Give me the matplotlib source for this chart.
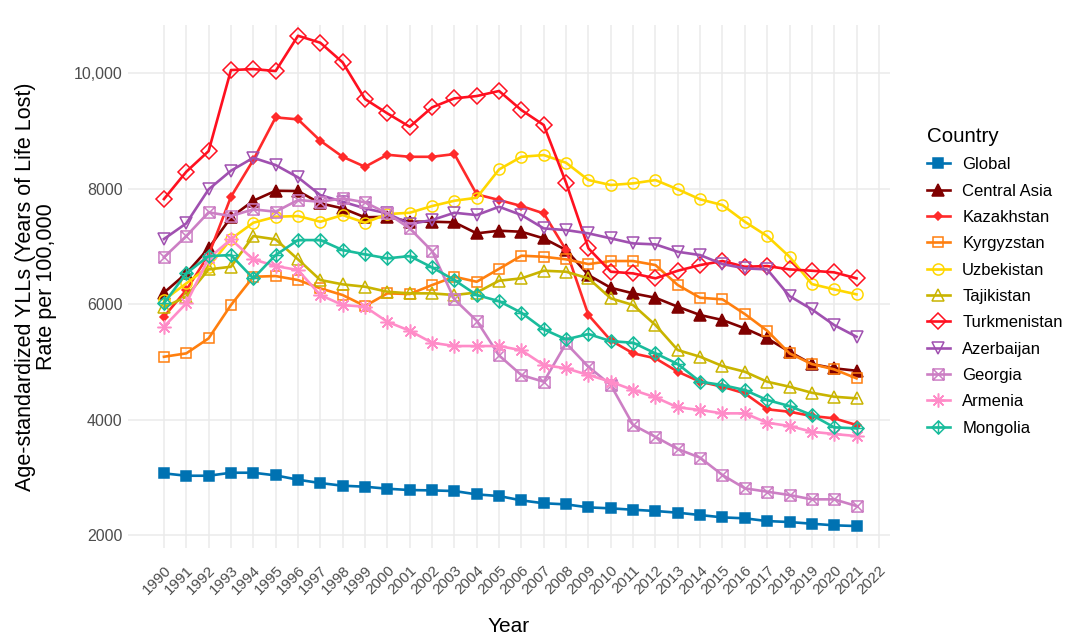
import numpy as np
import matplotlib
matplotlib.use("Agg")
import matplotlib.pyplot as plt
from matplotlib.path import Path

plt.rcParams['font.family'] = ['Liberation Sans', 'DejaVu Sans']

years = list(range(1990, 2022))

global_vals = [3068, 3027, 3027, 3079, 3079, 3033, 2958, 2900, 2854, 2837,
               2802, 2779, 2773, 2762, 2704, 2675, 2600, 2550, 2531, 2479,
               2462, 2438, 2416, 2387, 2346, 2306, 2289, 2242, 2225, 2196,
               2168, 2156]
central_asia = [6196, 6531, 6965, 7502, 7789, 7962, 7957, 7744, 7657, 7502,
                7512, 7426, 7426, 7415, 7224, 7270, 7252, 7137, 6935, 6502,
                6282, 6185, 6109, 5953, 5810, 5723, 5579, 5406, 5174, 4961,
                4887, 4845]
kazakhstan = [5781, 6242, 6850, 7858, 8494, 9232, 9198, 8828, 8550, 8377,
              8585, 8550, 8550, 8597, 7900, 7801, 7697, 7570, 6935, 5810,
              5370, 5146, 5060, 4828, 4655, 4568, 4453, 4177, 4135, 4061,
              4021, 3905]
kyrgyzstan = [5087, 5146, 5406, 5983, 6473, 6485, 6416, 6272, 6156, 5965,
              6185, 6173, 6329, 6473, 6386, 6610, 6837, 6819, 6774, 6692,
              6745, 6745, 6675, 6329, 6109, 6081, 5827, 5538, 5146, 4961,
              4869, 4713]
uzbekistan = [6069, 6358, 6646, 7126, 7408, 7512, 7524, 7426, 7541, 7408,
              7558, 7581, 7697, 7789, 7841, 8331, 8550, 8580, 8447, 8147,
              8061, 8090, 8147, 7986, 7813, 7714, 7426, 7177, 6819, 6346,
              6254, 6168]
tajikistan = [5943, 6127, 6600, 6646, 7177, 7120, 6774, 6416, 6341, 6300,
              6213, 6185, 6185, 6156, 6200, 6404, 6445, 6577, 6560, 6445,
              6099, 5983, 5636, 5203, 5087, 4926, 4828, 4655, 4568, 4464,
              4395, 4367]
turkmenistan = [7818, 8291, 8649, 10052, 10069, 10035, 10646, 10525, 10185, 9550,
                9302, 9070, 9406, 9562, 9602, 9690, 9359, 9100, 8100, 6965,
                6560, 6531, 6445, 6577, 6675, 6745, 6646, 6658, 6600, 6577,
                6549, 6445]
azerbaijan = [7126, 7397, 7986, 8309, 8533, 8407, 8194, 7887, 7772, 7657,
              7570, 7385, 7455, 7581, 7541, 7685, 7541, 7310, 7281, 7224,
              7137, 7050, 7033, 6905, 6848, 6692, 6618, 6600, 6138, 5908,
              5636, 5434]
georgia = [6809, 7177, 7588, 7524, 7640, 7599, 7801, 7772, 7830, 7761,
           7570, 7310, 6918, 6081, 5711, 5110, 4770, 4655, 5319, 4915,
           4597, 3905, 3700, 3489, 3339, 3039, 2809, 2750, 2693, 2618,
           2618, 2502]
armenia = [5607, 6012, 6791, 7120, 6774, 6658, 6589, 6156, 5983, 5953,
           5693, 5538, 5330, 5273, 5273, 5273, 5200, 4944, 4887, 4771,
           4655, 4511, 4384, 4211, 4165, 4107, 4107, 3945, 3887, 3789,
           3749, 3714]
mongolia = [6012, 6531, 6831, 6848, 6445, 6848, 7108, 7108, 6935, 6861,
            6791, 6831, 6635, 6416, 6156, 6050, 5850, 5562, 5388, 5481,
            5357, 5330, 5146, 4961, 4655, 4597, 4511, 4338, 4234, 4078,
            3865, 3847]

countries = ["Global", "Central Asia", "Kazakhstan", "Kyrgyzstan", "Uzbekistan",
             "Tajikistan", "Turkmenistan", "Azerbaijan", "Georgia", "Armenia",
             "Mongolia"]
series = [global_vals, central_asia, kazakhstan, kyrgyzstan, uzbekistan,
          tajikistan, turkmenistan, azerbaijan, georgia, armenia, mongolia]
colors = ["#0072B2", "#800000", "#FF2A2A", "#FF7F0E", "#FFD700",
          "#C9B400", "#FF1020", "#A050B0", "#CC7FC4", "#FF8CC8", "#1ABC9C"]

y_ticks = [2000, 4000, 6000, 8000, 10000]
y_tick_labels = ["2000", "4000", "6000", "8000", "10,000"]
x_ticks = list(range(1990, 2023))

# composite markers (square with X, diamond with plus)
sq_x = Path([(-1, -1), (1, -1), (1, 1), (-1, 1), (-1, -1),
             (-1, -1), (1, 1), (-1, 1), (1, -1)],
            [Path.MOVETO, Path.LINETO, Path.LINETO, Path.LINETO, Path.CLOSEPOLY,
             Path.MOVETO, Path.LINETO, Path.MOVETO, Path.LINETO])
dia_plus = Path([(0, -1), (1, 0), (0, 1), (-1, 0), (0, -1),
                 (-1, 0), (1, 0), (0, -1), (0, 1)],
                [Path.MOVETO, Path.LINETO, Path.LINETO, Path.LINETO, Path.CLOSEPOLY,
                 Path.MOVETO, Path.LINETO, Path.MOVETO, Path.LINETO])

# (marker, size, filled)
marker_specs = [
    ("s", 7, True),
    ("^", 8, True),
    ("D", 4.5, True),
    ("s", 7.5, False),
    ("o", 8, False),
    ("^", 8.5, False),
    ("D", 8, False),
    ("v", 8.5, False),
    (sq_x, 8, False),
    ((8, 2, 0), 10, False),
    (dia_plus, 9.5, False),
]

fig = plt.figure(figsize=(10.69, 6.43), dpi=100)
ax = fig.add_axes([0.1197, 0.1477, 0.7129, 0.8133])

for name, vals, col, (mk, ms, filled) in zip(countries, series, colors, marker_specs):
    ax.plot(years, vals, color=col, lw=1.9, marker=mk, markersize=ms,
            markerfacecolor=col if filled else "none",
            markeredgecolor=col, markeredgewidth=1.1, label=name)

ax.set_xlim(1988.39, 2022.5)
ax.set_ylim(1775, 10831)
ax.set_xticks(x_ticks)
ax.set_xticklabels([str(y) for y in x_ticks], rotation=45, ha="right",
                   rotation_mode="anchor", fontsize=11, color="#4D4D4D")
ax.set_yticks(y_ticks)
ax.set_yticklabels(y_tick_labels, fontsize=11.5, color="#4D4D4D")
ax.tick_params(length=0, pad=4)
ax.tick_params(axis="x", pad=11)
ax.grid(True, color="#EBEBEB", lw=1.1)
ax.set_axisbelow(True)
for sp in ax.spines.values():
    sp.set_visible(False)

ax.set_xlabel("Year", fontsize=15, labelpad=14)
ax.set_ylabel("Age-standardized YLLs (Years of Life Lost)\nRate per 100,000",
              fontsize=15.5, labelpad=12, linespacing=1.0)

leg = ax.legend(title="Country", loc="upper left", bbox_to_anchor=(1.04, 0.818),
                frameon=False, fontsize=12, title_fontsize=14.8,
                handlelength=1.35, labelspacing=0.68, handletextpad=0.75,
                borderaxespad=0)
leg._legend_box.align = "left"

fig.savefig("out.png", dpi=100)
